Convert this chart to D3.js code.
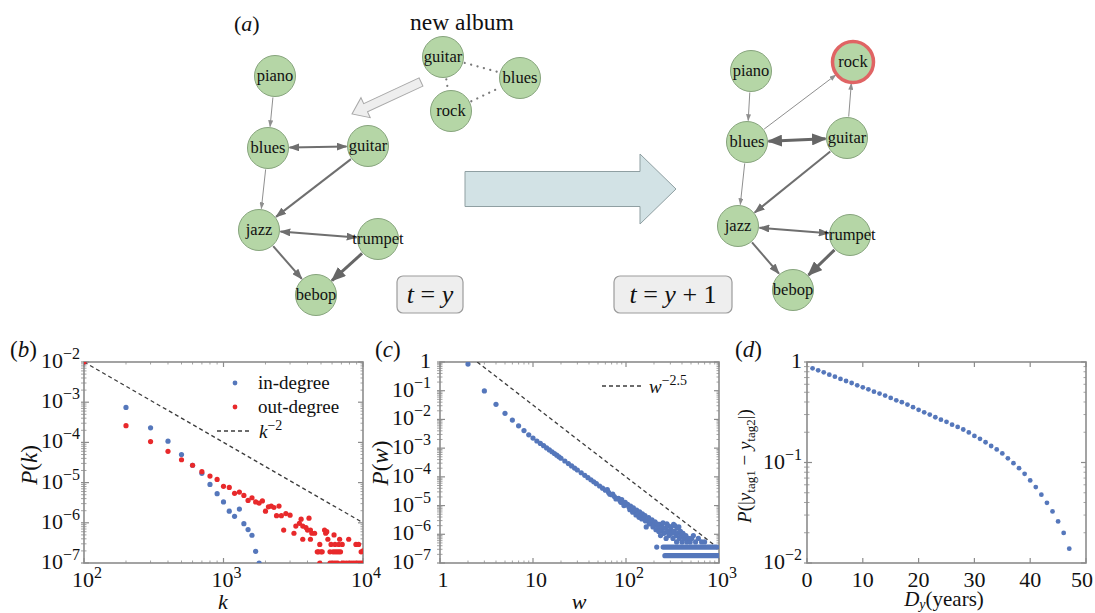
<!DOCTYPE html>
<html>
<head>
<meta charset="utf-8">
<script src="https://cdn.jsdelivr.net/npm/d3@7/dist/d3.min.js"></script>
</head>
<body style="margin:0;background:#fff">
<svg id="fig" width="1095" height="613"></svg>
<script>
// ---- panel (b): degree distributions, [k, P(k)]
var inDegree = [[100,1e-2],[200,7.4e-4],[300,2.3e-4],[400,1.07e-4],[500,5e-5],[600,2.7e-5],[700,1.7e-5],
  [800,9e-6],[900,5.3e-6],[1000,3.3e-6],[1100,1.95e-6],[1200,1.45e-6],[1300,2.2e-6],[1400,9.5e-7],
  [1500,6.8e-7],[1600,4.9e-7],[1700,1.95e-7],[1800,1e-7]];
var outDegree = [[100,1e-2],[200,2.6e-4],[300,1.05e-4],[400,6e-5],[500,3.7e-5],[600,2.7e-5],[700,1.87e-5],
  [800,1.45e-5],[900,1.2e-5],[1000,8.1e-6],[1100,7.6e-6],[1200,5.4e-6],[1300,5.8e-6],[1400,4.8e-6],
  [1500,3.6e-6],[1600,4.2e-6],[1700,3.3e-6],[1800,3.1e-6],[1900,3.5e-6],[2000,1.95e-6],[2100,2.5e-6],
  [2200,2.6e-6],[2300,2.4e-6],[2400,1.5e-6],[2500,2.6e-6],[2600,1.5e-6],[2700,6.6e-7],[2800,1.7e-6],
  [3000,1.55e-6],[3200,5.5e-7],[3300,8.3e-7],[3500,9.7e-7],[3600,1.23e-6],[3700,8.3e-7],[3700,3.9e-7],
  [3900,7.6e-7],[4000,6.6e-7],[4100,1.3e-6],[4200,6.6e-7],[4200,3.9e-7],[4300,5.5e-7],[4500,5.5e-7],
  [4700,1.9e-7],[4800,1.9e-7],[4900,2.9e-7],[5000,1.9e-7],[5100,1.9e-7],[5300,6.6e-7],[5400,5.5e-7],
  [5500,6e-7],[5600,3.9e-7],[5800,1.9e-7],[5900,2.9e-7],[6100,1.9e-7],[6200,5e-7],[6300,2.9e-7],
  [6300,1.9e-7],[6500,1.9e-7],[6700,2.9e-7],[6700,1.9e-7],[6800,3.9e-7],[6900,1.9e-7],[7100,2.9e-7],
  [7900,3.9e-7],[8900,2.9e-7],[9300,2.9e-7],[9700,1.9e-7],[10000,2e-7],
  [4900,1e-7],[5800,1e-7],[6000,1e-7],[6200,1e-7],[6400,1e-7],[6600,1e-7],[7100,1e-7],[7300,1e-7],
  [7600,1e-7],[7900,1e-7],[8200,1e-7],[8500,1e-7],[8800,1e-7],[9100,1e-7],[9400,1e-7],[9700,1e-7],[10000,1e-7]];
var degreeGuide = [[100,1e-2],[1e4,1e-6]];          // k^-2
var degreeXTicks = [1e2,1e3,1e4];
var degreeYTicks = [1e-7,1e-6,1e-5,1e-4,1e-3,1e-2];

// ---- panel (c): link weight distribution, [w, P(w)]
var weightPoints = [[2,0.85],[3,0.098],[4,0.0336],[5,0.0163],[6,0.0095],[7,0.006],[8,0.0041],[9,0.0029],
  [10,2.24e-3],[11,1.77e-3],[12,1.46e-3],[13,1.22e-3],[14,1.02e-3],[15,8.7e-4],[16,7.5e-4],[17,6.5e-4],
  [18,5.7e-4],[19,5e-4],[20,4.45e-4],[22,3.57e-4],[24,2.91e-4],[26,2.41e-4],[28,2.03e-4],[30,1.73e-4],
  [33,1.39e-4],[36,1.13e-4],[39,9.4e-5],[42,7.9e-5],[45,6.7e-5],[48,5.8e-5],[52,4.8e-5],[56,4.05e-5],
  [60,3.44e-5],[63,3.6e-5],[65,2.86e-5],[67,2.5e-5],[70,2.4e-5],[72,2.5e-5],[75,2.05e-5],[78,1.7e-5],
  [80,1.76e-5],[83,1.8e-5],[86,1.49e-5],[88,1.3e-5],[90,1.6e-5],[92,1.27e-5],[95,1e-5],[98,1.3e-5],
  [100,1.05e-5],[104,1.1e-5],[108,8.7e-6],[110,7.2e-6],[112,9.6e-6],[116,7.4e-6],[118,5.9e-6],[120,8.4e-6],
  [125,6.2e-6],[128,4.7e-6],[130,7e-6],[135,5.2e-6],[138,3.9e-6],[140,6.1e-6],[145,4.4e-6],[148,3.4e-6],
  [150,5.2e-6],[155,3.8e-6],[160,4.5e-6],[162,2.9e-6],[165,1.8e-6],[170,3e-6],[175,3.8e-6],[178,2.3e-6],
  [185,2.5e-6],[190,3.2e-6],[195,1.8e-6],[200,2.08e-6],[205,2.7e-6],[210,1.44e-6],[214,3.6e-7],[215,2.3e-6],
  [220,1.67e-6],[225,1.26e-6],[230,2.2e-6],[235,9e-7],[240,1.36e-6],[245,1.8e-6],[250,2.5e-6],[255,1.08e-6],
  [260,1.13e-6],[265,1.62e-6],[270,7.2e-7],[275,2.3e-6],[280,1.26e-6],[285,1.98e-6],[290,9e-7],[300,1.44e-6],
  [305,1.8e-6],[310,1.08e-6],[320,7.2e-7],[325,2.2e-6],[330,1.26e-6],[336,2e-6],[345,9e-7],[350,5.4e-7],
  [355,1.62e-6],[360,1.08e-6],[370,1.8e-6],[375,7.2e-7],[385,1.26e-6],[390,9e-7],[400,5.4e-7],[410,1.08e-6],
  [425,7.2e-7],[440,9e-7],[450,5.4e-7],[470,7.2e-7],[490,5.4e-7],[509,7.2e-7],[530,9e-7],[560,5.4e-7],
  [600,7.2e-7],[650,5.4e-7],[700,5.4e-7]];
// single / double counts form solid rows in the tail
var weightRowLevel = [3.6e-7, 1.8e-7];
var weightRowFrom = [251, 262];
var weightRowTo = [945, 1000];
var weightGuide = [[2.512,1],[1000,3.16e-7]];       // w^-2.5
var weightXTicks = [1,10,1e2,1e3];
var weightYTicks = [1e-7,1e-6,1e-5,1e-4,1e-3,1e-2,1e-1,1];

// ---- panel (d): tag year difference
var yearGap = [1,2,3,4,5,6,7,8,9,10,11,12,13,14,15,16,17,18,19,20,21,22,23,24,25,26,27,28,29,30,
  31,32,33,34,35,36,37,38,39,40,41,42,43,44,45,46,47];
var yearProb = [0.865,0.826,0.79,0.748,0.715,0.678,0.647,0.618,0.586,0.56,0.535,0.507,0.485,0.463,0.439,
  0.416,0.398,0.377,0.355,0.334,0.316,0.3,0.282,0.267,0.254,0.238,0.226,0.213,0.199,0.184,0.172,0.159,
  0.146,0.135,0.123,0.11,0.0985,0.0879,0.0771,0.0663,0.0569,0.0478,0.0397,0.0326,0.0259,0.0199,0.0139];
var yearXTicks = [0,10,20,30,40,50];
var yearYTicks = [1e-2,1e-1,1];

// ---- panel (a): tag networks
var netBefore = [{id:"piano",x:275,y:76},{id:"blues",x:268,y:148},{id:"guitar",x:368,y:146},
  {id:"jazz",x:259,y:230},{id:"trumpet",x:378,y:239},{id:"bebop",x:316,y:295}];
var linksBefore = [["piano","blues",1,false],["blues","guitar",2,true],["blues","jazz",1,false],
  ["guitar","jazz",2,false],["jazz","trumpet",2,true],["jazz","bebop",2,false],["trumpet","bebop",3,false]];
var netAfter = [{id:"piano",x:751,y:71},{id:"rock",x:853,y:62,added:true},{id:"blues",x:747,y:142},
  {id:"guitar",x:847,y:138},{id:"jazz",x:738,y:226},{id:"trumpet",x:850,y:235},{id:"bebop",x:793,y:290}];
var linksAfter = [["piano","blues",1,false],["blues","rock",1,false],["guitar","rock",1,false],
  ["blues","guitar",3,true],["blues","jazz",1,false],["guitar","jazz",2,false],["jazz","trumpet",2,true],
  ["jazz","bebop",2,false],["trumpet","bebop",3,false]];
var albumTags = [{id:"guitar",x:443,y:57},{id:"blues",x:520,y:78},{id:"rock",x:451,y:111}];
var albumLinks = [["guitar","blues"],["guitar","rock"],["rock","blues"]];

var blue = "#5577bb", red = "#e8292b", frameGrey = "#8c8c8c";
var serif = "'Liberation Serif', 'Times New Roman', serif";
var nodeR = 20.5;

var svg = d3.select("#fig");
var defs = svg.append("defs");

// ---------- network part ----------
var headSize = {1:[7,5], 2:[11,8], 3:[15,12]};
var edgeColor = {1:"#8f8f8f", 2:"#6f6f6f", 3:"#666666"};
[1,2,3].forEach(function(w){
	defs.append("marker").attr("id","head"+w)
		.attr("viewBox","0 0 10 10").attr("refX",9).attr("refY",5)
		.attr("preserveAspectRatio","none")
		.attr("markerUnits","userSpaceOnUse")
		.attr("markerWidth",headSize[w][0]).attr("markerHeight",headSize[w][1])
		.attr("orient","auto-start-reverse")
		.append("path").attr("d","M0,0L10,5L0,10z").attr("fill",edgeColor[w]);
});

function towards(a, b, dist){
	var dx = b.x - a.x, dy = b.y - a.y, L = Math.sqrt(dx*dx + dy*dy);
	return {x: a.x + dx/L*dist, y: a.y + dy/L*dist};
}

function drawNodes(g, nodes){
	var n = g.selectAll("g.node").data(nodes).enter().append("g")
		.attr("transform", function(d){ return "translate(" + d.x + "," + d.y + ")"; });
	n.append("circle").attr("r", nodeR)
		.attr("fill", "#b5d6a6")
		.attr("stroke", function(d){ return d.added ? "#e06464" : "#86a47c"; })
		.attr("stroke-width", function(d){ return d.added ? 3.5 : 1; });
	n.append("text").attr("text-anchor","middle").attr("dy","0.33em")
		.attr("font-size", 16.5).text(function(d){ return d.id; });
}

function drawNetwork(nodes, links){
	var g = svg.append("g");
	var byId = {};
	nodes.forEach(function(n){ byId[n.id] = n; });
	g.selectAll("line").data(links).enter().append("line")
		.attr("x1", function(d){ return towards(byId[d[0]], byId[d[1]], nodeR + 1).x; })
		.attr("y1", function(d){ return towards(byId[d[0]], byId[d[1]], nodeR + 1).y; })
		.attr("x2", function(d){ return towards(byId[d[1]], byId[d[0]], nodeR + 1).x; })
		.attr("y2", function(d){ return towards(byId[d[1]], byId[d[0]], nodeR + 1).y; })
		.attr("stroke", function(d){ return edgeColor[d[2]]; })
		.attr("stroke-width", function(d){ return d[2]; })
		.attr("marker-end", function(d){ return "url(#head" + d[2] + ")"; })
		.attr("marker-start", function(d){ return d[3] ? "url(#head" + d[2] + ")" : null; });
	drawNodes(g, nodes);
}

drawNetwork(netBefore, linksBefore);
drawNetwork(netAfter, linksAfter);

// new album tags, dotted links
var album = svg.append("g");
var albumById = {};
albumTags.forEach(function(n){ albumById[n.id] = n; });
album.selectAll("line").data(albumLinks).enter().append("line")
	.attr("x1", function(d){ return towards(albumById[d[0]], albumById[d[1]], nodeR + 2).x; })
	.attr("y1", function(d){ return towards(albumById[d[0]], albumById[d[1]], nodeR + 2).y; })
	.attr("x2", function(d){ return towards(albumById[d[1]], albumById[d[0]], nodeR + 2).x; })
	.attr("y2", function(d){ return towards(albumById[d[1]], albumById[d[0]], nodeR + 2).y; })
	.attr("stroke", "#7a7a7a").attr("stroke-width", 2.2)
	.attr("stroke-linecap", "round").attr("stroke-dasharray", "0.1,6.5");
drawNodes(album, albumTags);

svg.append("text").attr("x", 410).attr("y", 30).attr("font-size", 23.5).text("new album");
var la = svg.append("text").attr("x", 234).attr("y", 31).attr("font-size", 22);
la.append("tspan").text("(");
la.append("tspan").attr("font-style","italic").text("a");
la.append("tspan").text(")");

// hollow arrow: album -> existing network
function arrowShape(len, shaftHalf, headHalf, headLen){
	return [[0,-shaftHalf],[len-headLen,-shaftHalf],[len-headLen,-headHalf],[len,0],
		[len-headLen,headHalf],[len-headLen,shaftHalf],[0,shaftHalf]];
}
var hFrom = {x:421, y:82}, hTo = {x:352, y:114};
var hLen = Math.sqrt(Math.pow(hTo.x-hFrom.x,2) + Math.pow(hTo.y-hFrom.y,2));
var hAng = Math.atan2(hTo.y-hFrom.y, hTo.x-hFrom.x) * 180 / Math.PI;
svg.append("polygon")
	.attr("points", arrowShape(hLen, 4.5, 11, 15).map(function(p){ return p.join(","); }).join(" "))
	.attr("transform", "translate(" + hFrom.x + "," + hFrom.y + ") rotate(" + hAng + ")")
	.attr("fill", "#eeeeee").attr("stroke", "#a8a8a8").attr("stroke-width", 1);

// big step arrow
svg.append("polygon")
	.attr("points", arrowShape(211, 17.5, 35, 36).map(function(p){ return p.join(","); }).join(" "))
	.attr("transform", "translate(465,189)")
	.attr("fill", "#d2e2e5").attr("stroke", "#8f9fa2").attr("stroke-width", 1);

// time boxes
function timeBox(x, y, w, h, parts){
	svg.append("rect").attr("x", x).attr("y", y).attr("width", w).attr("height", h)
		.attr("rx", 6).attr("fill", "#eeeeee").attr("stroke", "#9c9c9c").attr("stroke-width", 1.2);
	var t = svg.append("text").attr("x", x + w/2).attr("y", y + h/2 + 8)
		.attr("text-anchor", "middle").attr("font-size", 26);
	parts.forEach(function(p){
		t.append("tspan").attr("font-style", p[1] ? "italic" : null).text(p[0]);
	});
}
timeBox(397, 276, 66, 37, [["t",1],[" = ",0],["y",1]]);
timeBox(614, 276, 118, 37, [["t",1],[" = ",0],["y",1],[" + 1",0]]);

// ---------- plot panels ----------
function supLabel(sel, v, plainTen){
	var e = Math.round(Math.log10(v));
	if(e === 0){ sel.text("1"); return; }
	if(e === 1 && plainTen){ sel.text("10"); return; }
	sel.append("tspan").text("10");
	sel.append("tspan").attr("dy", -9).attr("font-size", 16)
		.text(e < 0 ? "\u2212" + (-e) : String(e));
}

function isDecade(v){
	var l = Math.log10(v);
	return Math.abs(l - Math.round(l)) < 1e-6;
}

function drawPanel(o){
	var g = svg.append("g");
	var x = o.x, y = o.y;
	var L = x.range()[0], R = x.range()[1], T = y.range()[1], B = y.range()[0];

	defs.append("clipPath").attr("id", o.id)
		.append("rect").attr("x", L).attr("y", T).attr("width", R - L).attr("height", B - T);

	var tickG = g.append("g").attr("stroke", frameGrey);
	function vTicks(vals, len, w){
		vals.forEach(function(v){
			var px = x(v);
			tickG.append("line").attr("x1", px).attr("x2", px).attr("y1", B).attr("y2", B - len).attr("stroke-width", w);
			tickG.append("line").attr("x1", px).attr("x2", px).attr("y1", T).attr("y2", T + len).attr("stroke-width", w);
		});
	}
	function hTicks(vals, len, w){
		vals.forEach(function(v){
			var py = y(v);
			tickG.append("line").attr("y1", py).attr("y2", py).attr("x1", L).attr("x2", L + len).attr("stroke-width", w);
			tickG.append("line").attr("y1", py).attr("y2", py).attr("x1", R).attr("x2", R - len).attr("stroke-width", w);
			tickG.append("line").attr("y1", py).attr("y2", py).attr("x1", L).attr("x2", L - 3).attr("stroke-width", w);
		});
	}
	if(o.xLog) vTicks(x.ticks().filter(function(v){ return !isDecade(v); }), 2.5, 0.8);
	vTicks(o.xTicks, 5, 1.2);
	hTicks(y.ticks().filter(function(v){ return !isDecade(v); }), 2.5, 0.8);
	hTicks(o.yTicks, 5, 1.2);

	g.append("rect").attr("x", L).attr("y", T).attr("width", R - L).attr("height", B - T)
		.attr("fill", "none").attr("stroke", frameGrey).attr("stroke-width", 1.6);

	g.selectAll("text.xt").data(o.xTicks).enter().append("text")
		.attr("class", "xt").attr("x", function(d){ return x(d) + (o.xLog ? 3 : 0); }).attr("y", 587)
		.attr("text-anchor", "middle").attr("font-size", 22)
		.each(function(d){
			if(o.xLog) supLabel(d3.select(this), d, o.plainTen);
			else d3.select(this).text(d);
		});
	g.selectAll("text.yt").data(o.yTicks).enter().append("text")
		.attr("class", "yt").attr("x", L - o.yGap).attr("y", function(d){ return y(d) + 6; })
		.attr("text-anchor", "end").attr("font-size", 22)
		.each(function(d){ supLabel(d3.select(this), d, false); });

	var pl = svg.append("text").attr("x", o.tagX).attr("y", 357).attr("font-size", 23);
	pl.append("tspan").text("(");
	pl.append("tspan").attr("font-style", "italic").text(o.tag);
	pl.append("tspan").text(")");

	return g.append("g").attr("clip-path", "url(#" + o.id + ")");
}

function dashedGuide(g, x, y, pts){
	g.append("path")
		.attr("d", d3.line().x(function(d){ return x(d[0]); }).y(function(d){ return y(d[1]); })(pts))
		.attr("fill", "none").attr("stroke", "#3c3c3c").attr("stroke-width", 1.3)
		.attr("stroke-dasharray", "4,3");
}

function dots(g, x, y, pts, color, r){
	g.selectAll(null).data(pts).enter().append("circle")
		.attr("cx", function(d){ return x(d[0]); }).attr("cy", function(d){ return y(d[1]); })
		.attr("r", r).attr("fill", color);
}

// (b)
var xB = d3.scaleLog().domain([1e2, 1e4]).range([84, 363]);
var yB = d3.scaleLog().domain([1e-7, 1e-2]).range([563, 362]);
var plotB = drawPanel({id:"clipB", x:xB, y:yB, xLog:true, xTicks:degreeXTicks, yTicks:degreeYTicks,
	yGap:4, tag:"b", tagX:10});
dashedGuide(plotB, xB, yB, degreeGuide);
dots(plotB, xB, yB, inDegree, blue, 2.6);
dots(plotB, xB, yB, outDegree, red, 2.6);

svg.append("circle").attr("cx", 235).attr("cy", 383).attr("r", 2.4).attr("fill", blue);
svg.append("circle").attr("cx", 235).attr("cy", 407).attr("r", 2.4).attr("fill", red);
svg.append("text").attr("x", 258).attr("y", 389).attr("font-size", 19).text("in-degree");
svg.append("text").attr("x", 258).attr("y", 413).attr("font-size", 19).text("out-degree");
svg.append("line").attr("x1", 217).attr("x2", 251).attr("y1", 431).attr("y2", 431)
	.attr("stroke", "#3c3c3c").attr("stroke-width", 1.3).attr("stroke-dasharray", "4,3");
var kl = svg.append("text").attr("x", 259).attr("y", 438).attr("font-size", 19);
kl.append("tspan").attr("font-style", "italic").text("k");
kl.append("tspan").attr("dy", -8).attr("font-size", 14).text("\u22122");

svg.append("text").attr("x", 223).attr("y", 609).attr("text-anchor", "middle")
	.attr("font-size", 22).attr("font-style", "italic").text("k");
var pb = svg.append("text").attr("transform", "translate(37,465) rotate(-90)")
	.attr("text-anchor", "middle").attr("font-size", 23);
pb.append("tspan").attr("font-style", "italic").text("P");
pb.append("tspan").text("(");
pb.append("tspan").attr("font-style", "italic").text("k");
pb.append("tspan").text(")");

// (c)
var xC = d3.scaleLog().domain([1, 1e3]).range([440, 719]);
var yC = d3.scaleLog().domain([1e-7, 1]).range([563, 362]);
var plotC = drawPanel({id:"clipC", x:xC, y:yC, xLog:true, plainTen:true, xTicks:weightXTicks,
	yTicks:weightYTicks, yGap:9, tag:"c", tagX:375});
dashedGuide(plotC, xC, yC, weightGuide);
plotC.selectAll(null).data(weightRowLevel).enter().append("line")
	.attr("x1", function(d, i){ return xC(weightRowFrom[i]); })
	.attr("x2", function(d, i){ return xC(weightRowTo[i]); })
	.attr("y1", function(d){ return yC(d); }).attr("y2", function(d){ return yC(d); })
	.attr("stroke", blue).attr("stroke-width", 5.2).attr("stroke-linecap", "round");
dots(plotC, xC, yC, weightPoints, blue, 2.6);

svg.append("line").attr("x1", 602).attr("x2", 642).attr("y1", 386).attr("y2", 386)
	.attr("stroke", "#3c3c3c").attr("stroke-width", 1.3).attr("stroke-dasharray", "4,3");
var wl = svg.append("text").attr("x", 649).attr("y", 393).attr("font-size", 19);
wl.append("tspan").attr("font-style", "italic").text("w");
wl.append("tspan").attr("dy", -8).attr("font-size", 14).text("\u22122.5");

svg.append("text").attr("x", 579).attr("y", 609).attr("text-anchor", "middle")
	.attr("font-size", 22).attr("font-style", "italic").text("w");
var pc = svg.append("text").attr("transform", "translate(388,463) rotate(-90)")
	.attr("text-anchor", "middle").attr("font-size", 23);
pc.append("tspan").attr("font-style", "italic").text("P");
pc.append("tspan").text("(");
pc.append("tspan").attr("font-style", "italic").text("w");
pc.append("tspan").text(")");

// (d)
var xD = d3.scaleLinear().domain([0, 50]).range([807, 1086]);
var yD = d3.scaleLog().domain([1e-2, 1]).range([563, 362]);
var plotD = drawPanel({id:"clipD", x:xD, y:yD, xLog:false, xTicks:yearXTicks, yTicks:yearYTicks,
	yGap:5, tag:"d", tagX:735});
dots(plotD, xD, yD, yearGap.map(function(g, i){ return [g, yearProb[i]]; }), blue, 2.4);

var dl = svg.append("text").attr("x", 944).attr("y", 606).attr("text-anchor", "middle").attr("font-size", 21);
dl.append("tspan").attr("font-style", "italic").text("D");
dl.append("tspan").attr("font-style", "italic").attr("font-size", 14).attr("dy", 3).text("y");
dl.append("tspan").attr("dy", -3).text("(years)");

var pd = svg.append("text").attr("transform", "translate(751,466) rotate(-90)")
	.attr("text-anchor", "middle").attr("font-size", 19);
pd.append("tspan").attr("font-style", "italic").text("P");
pd.append("tspan").text("(|");
pd.append("tspan").attr("font-style", "italic").text("y");
pd.append("tspan").attr("font-size", 13).attr("dy", 4).text("tag1");
pd.append("tspan").attr("dy", -4).text(" \u2212 ");
pd.append("tspan").attr("font-style", "italic").text("y");
pd.append("tspan").attr("font-size", 13).attr("dy", 4).text("tag2");
pd.append("tspan").attr("dy", -4).text("|)");

// serif everywhere, set inline so nothing overrides it
svg.selectAll("text").style("font-family", serif).style("fill", "#111");

// keep tick labels inside the picture at the right edge
svg.selectAll("text.xt").each(function(){
	var b = this.getBBox();
	if(b.x + b.width > 1093){
		d3.select(this).attr("x", +d3.select(this).attr("x") - (b.x + b.width - 1093));
	}
});
</script>
</body>
</html>
